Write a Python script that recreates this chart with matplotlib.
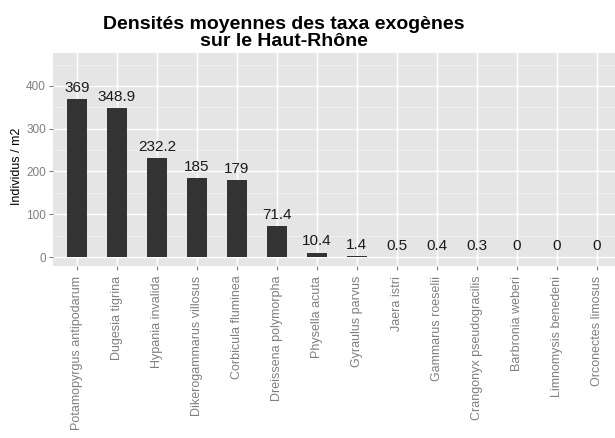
import numpy as np
import matplotlib.pyplot as plt
from matplotlib.ticker import MultipleLocator

plt.rcParams['font.family'] = ['Liberation Sans', 'DejaVu Sans']

taxa = ["Potamopyrgus antipodarum", "Dugesia tigrina", "Hypania invalida",
        "Dikerogammarus villosus", "Corbicula fluminea", "Dreissena polymorpha",
        "Physella acuta", "Gyraulus parvus", "Jaera istri", "Gammarus roeselii",
        "Crangonyx pseudogracilis", "Barbronia weberi", "Limnomysis benedeni",
        "Orconectes limosus"]
densites = [369, 348.9, 232.2, 185, 179, 71.4, 10.4, 1.4, 0.5, 0.4, 0.3, 0, 0, 0]
labels = ["369", "348.9", "232.2", "185", "179", "71.4", "10.4", "1.4", "0.5",
          "0.4", "0.3", "0", "0", "0"]

W, H = 615, 438
fig = plt.figure(figsize=(W / 100, H / 100), dpi=100)
left, right, top, bottom = 53, 620.6, 53, 266
ax = fig.add_axes([left / W, 1 - bottom / H, (right - left) / W, (bottom - top) / H])
ax.set_facecolor('#E5E5E5')

x = np.arange(1, len(taxa) + 1)
ax.bar(x, densites, width=0.5, color='#333333', linewidth=0, zorder=3)
for xi, v, lab in zip(x, densites, labels):
    ax.annotate(lab, (xi, v), xytext=(0, 3), textcoords='offset points',
                ha='center', va='bottom', fontsize=11, color='#1a1a1a', zorder=4)

ax.set_xlim(0.4, len(taxa) + 0.6)
ax.set_ylim(-21, 477)
ax.yaxis.set_major_locator(MultipleLocator(100))
ax.yaxis.set_minor_locator(MultipleLocator(50))
ax.set_xticks(x)
ax.set_xticklabels(taxa, rotation=90, fontsize=9, color='#7F7F7F')
ax.tick_params(axis='y', labelsize=8.5, labelcolor='#7F7F7F', color='#7F7F7F', length=3, pad=2)
ax.tick_params(axis='x', color='#7F7F7F', length=3, pad=4)
ax.tick_params(axis='y', which='minor', length=0)
ax.grid(which='major', color='white', linewidth=1.0, zorder=1)
ax.grid(which='minor', axis='y', color='#F2F2F2', linewidth=0.5, zorder=1)
ax.set_axisbelow(True)
for s in ax.spines.values():
    s.set_visible(False)

fig.text(17 / W, 1 - 166 / H, "Individus / m2", rotation=90, ha='center', va='center', fontsize=9)
fig.text(284 / W, 1 - 33 / H, "Densités moyennes des taxa exogènes\nsur le Haut-Rhône",
         ha='center', va='center', fontsize=14, fontweight='bold', linespacing=0.95)

fig.savefig('out.png', dpi=100)
